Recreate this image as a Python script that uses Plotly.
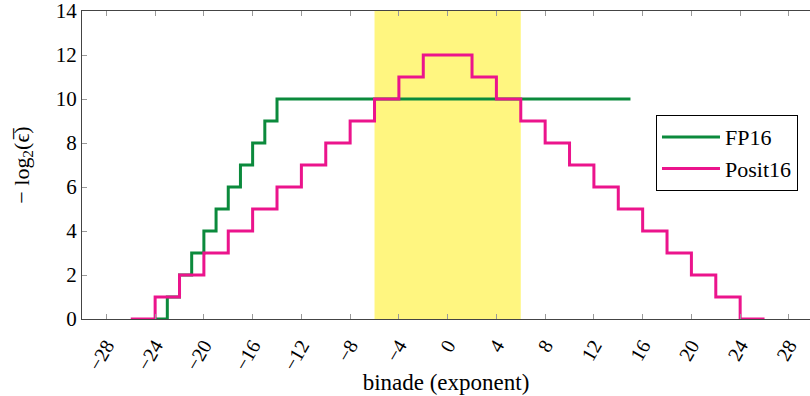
import plotly.graph_objects as go

# FP16 precision per binade (step starts)
fp16_x = [-24, -23, -22, -21, -20, -19, -18, -17, -16, -15, -14, 15]
fp16_y = [0, 1, 2, 3, 4, 5, 6, 7, 8, 9, 10, 10]

# Posit16 precision per binade (step starts)
posit_x = [-26, -24, -22, -20, -18, -16, -14, -12, -10, -8, -6, -4, -2,
           2, 4, 6, 8, 10, 12, 14, 16, 18, 20, 22, 24, 26]
posit_y = [0, 1, 2, 3, 4, 5, 6, 7, 8, 9, 10, 11, 12,
           11, 10, 9, 8, 7, 6, 5, 4, 3, 2, 1, 0, 0]

band = [-6, 6]
x_ticks = list(range(-28, 29, 4))
y_ticks = list(range(0, 15, 2))

FONT = "Liberation Serif"

fig = go.Figure()
fig.add_shape(type="rect", x0=band[0], x1=band[1], y0=0, y1=14,
              xref="x", yref="y", fillcolor="#fff680", line_width=0, layer="below")
fig.add_trace(go.Scatter(x=fp16_x, y=fp16_y, mode="lines", name="FP16",
                         line=dict(color="#0b8a3c", width=3, shape="hv")))
fig.add_trace(go.Scatter(x=posit_x, y=posit_y, mode="lines", name="Posit16",
                         line=dict(color="#eb148c", width=3, shape="hv")))

fig.update_layout(
    width=810, height=396,
    margin=dict(l=82, r=0, t=11, b=77, autoexpand=False),
    paper_bgcolor="white", plot_bgcolor="rgba(0,0,0,0)",
    font=dict(family=FONT, size=21, color="black"),
    showlegend=True,
    legend=dict(x=0.9835, xanchor="right", y=0.662, yanchor="top",
                bordercolor="black", borderwidth=1, bgcolor="white",
                itemwidth=58, tracegroupgap=0,
                font=dict(family=FONT, size=22)),
    xaxis=dict(range=[-30, 29.73], tickvals=x_ticks,
               ticktext=[("\u2212" + str(-v)) if v < 0 else str(v) for v in x_ticks],
               tickangle=-60, ticks="inside", ticklen=5, tickcolor="#999",
               showline=True, linecolor="#444", linewidth=1.2, mirror="ticks",
               showgrid=False, zeroline=False, automargin=False,
               ticklabelstandoff=6, ticklabeloverflow="allow",
               tickfont=dict(family=FONT, size=20),
               title=dict(text="binade (exponent)", font=dict(family=FONT, size=23), standoff=0)),
    yaxis=dict(range=[0, 14], tickvals=y_ticks, ticks="inside", ticklen=5, tickcolor="#999",
               showline=True, linecolor="#444", linewidth=1.2, mirror=False,
               showgrid=False, zeroline=False, automargin=False,
               ticklabeloverflow="allow",
               tickfont=dict(family=FONT, size=21),
               title=dict(text="\u2212 log<sub>2</sub>(\u03f5\u0305)", font=dict(family=FONT, size=22), standoff=20)),
)

fig.write_html("out.html", config={"displayModeBar": False},
               post_script="document.body.style.margin='0';document.body.style.padding='0';")
